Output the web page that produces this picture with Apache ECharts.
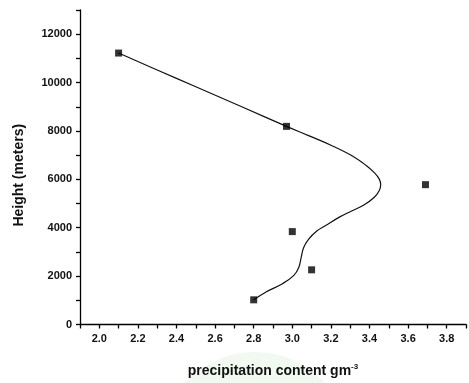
<!DOCTYPE html>
<html>
<head>
<meta charset="utf-8">
<script src="https://cdn.jsdelivr.net/npm/echarts@6/dist/echarts.min.js"></script>
<style>html,body{margin:0;padding:0;background:#fff;}#c{width:469px;height:383px;}</style>
</head>
<body>
<div id="c"></div>
<script>
// Measured points (precipitation content, height)
var pointX = [2.10, 2.97, 3.69, 3.00, 3.10, 2.80];
var pointY = [11220, 8190, 5780, 3840, 2260, 1020];
// Fitted curve (bottom to top)
var curveX = [2.800, 2.864, 2.949, 3.008, 3.034, 3.046, 3.059, 3.084, 3.127, 3.169, 3.246, 3.305, 3.373, 3.425, 3.450, 3.458, 3.450, 3.425, 3.381, 3.305, 3.203, 3.084, 2.970, 2.750, 2.500, 2.300, 2.100];
var curveY = [1020, 1347, 1686, 2029, 2368, 2776, 3184, 3523, 3866, 4070, 4449, 4682, 4952, 5260, 5530, 5780, 6020, 6280, 6584, 6993, 7401, 7809, 8190, 8960, 9830, 10520, 11220];
var xTitle = 'precipitation content gm';
var xTitleSup = '-3';
var yTitle = 'Height (meters)';

var pts = pointX.map(function (x, i) { return [x, pointY[i]]; });
var curve = curveX.map(function (x, i) { return [x, curveY[i]]; });

var chart = echarts.init(document.getElementById('c'));
var font = 'Arial, "Liberation Sans", sans-serif';
chart.setOption({
  backgroundColor: '#fff',
  animation: false,
  graphic: [{
    type: 'circle', z: -10, left: 160, top: 352,
    shape: { r: 95 },
    style: { fill: '#f1f9f1' }
  }],
  grid: { left: 80, top: 10, right: -5, bottom: 55 },
  xAxis: {
    type: 'value', min: 1.9, max: 3.9, interval: 0.1,
    axisLine: { show: true, lineStyle: { color: '#000', width: 1.3 } },
    axisTick: { show: true, length: 4, inside: false, lineStyle: { color: '#000', width: 1.3 } },
    splitLine: { show: false },
    axisLabel: {
      color: '#111', fontFamily: font, fontWeight: 'bold', fontSize: 11, margin: 9,
      formatter: function (v) {
        var k = Math.round(v * 10);
        if (k % 2 !== 0) return '';
        return (k / 10).toFixed(1);
      }
    },
    name: '{t|' + xTitle + '}{s|' + xTitleSup + '}',
    nameLocation: 'middle', nameGap: 38,
    nameTextStyle: {
      rich: {
        t: { fontFamily: font, fontSize: 14, color: '#111', fontWeight: 'bold' },
        s: { fontFamily: font, fontSize: 8, color: '#111', fontWeight: 'bold', verticalAlign: 'top', padding: [0, 0, 9, 0] }
      }
    }
  },
  yAxis: {
    type: 'value', min: 0, max: 13000, interval: 1000,
    axisLine: { show: true, lineStyle: { color: '#000', width: 1.3 } },
    axisTick: { show: true, length: 4, lineStyle: { color: '#000', width: 1.3 } },
    splitLine: { show: false },
    axisLabel: {
      color: '#111', fontFamily: font, fontWeight: 'bold', fontSize: 11, margin: 8,
      formatter: function (v) {
        var k = Math.round(v / 1000);
        if (k % 2 !== 0) return '';
        return String(k * 1000);
      }
    },
    name: yTitle, nameLocation: 'middle', nameGap: 54,
    nameTextStyle: { fontFamily: font, fontSize: 14, fontWeight: 'bold', color: '#111', padding: [0, 16, 0, 0] }
  },
  series: [{
    type: 'line', data: curve, smooth: 0.4, showSymbol: false, symbol: 'none',
    lineStyle: { color: '#111', width: 1.2 }, z: 2
  }, {
    type: 'scatter', data: pts, symbol: 'rect', symbolSize: 7,
    itemStyle: { color: '#000' }, z: 3
  }]
});
</script>
</body>
</html>
